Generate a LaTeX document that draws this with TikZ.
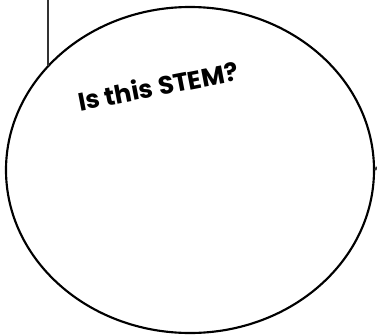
\documentclass[tikz,border=0pt]{standalone}
\usepackage{fontspec}
\newfontfamily\gothic{Poppins}
\usetikzlibrary{shapes, shapes.geometric, positioning, calc}

\begin{document}
\begin{tikzpicture}[x=0.75pt, y=-0.75pt,
	burbuja/.style={ellipse, draw=black, line width=1.6pt,
		minimum width=276pt, minimum height=244.5pt, inner sep=0pt},
	ln/.style={draw=black!80, line width=1.6pt},
	titulo/.style={font=\gothic\bfseries\fontsize{19}{22}\selectfont,
		rotate=11, inner sep=0pt}]

	\useasboundingbox (0,0) rectangle (377,335);

	\node[burbuja] (el) at (190,170) {};
	\node[titulo] (t) at (158,86) {Is this STEM?};

	\coordinate (arriba) at (48,0);
	\coordinate (derecha) at (377,167);

	\draw[ln] (arriba) -- (arriba |- el.144);
	\draw[ln] (el.east) -- (derecha);
\end{tikzpicture}
\end{document}
